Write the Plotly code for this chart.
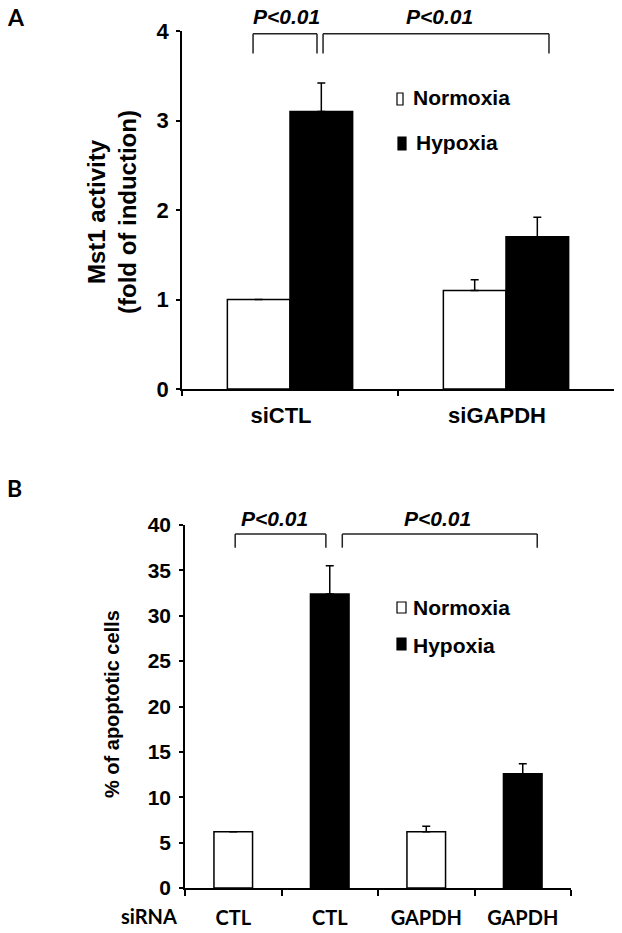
import plotly.graph_objects as go

W, H = 622, 933

# ---------------- data ----------------
# Panel A
groups_a = ["siCTL", "siGAPDH"]
normoxia_a = [1.0, 1.1]
normoxia_a_err = [0.0, 0.12]
hypoxia_a = [3.1, 1.7]
hypoxia_a_err = [0.32, 0.22]
yticks_a = [0, 1, 2, 3, 4]

# Panel B
sirna_b = ["CTL", "CTL", "GAPDH", "GAPDH"]
condition_b = ["Normoxia", "Hypoxia", "Normoxia", "Hypoxia"]
apoptotic_b = [6.2, 32.4, 6.2, 12.6]
apoptotic_b_err = [0.0, 3.1, 0.6, 1.1]
yticks_b = [0, 5, 10, 15, 20, 25, 30, 35, 40]

p_label = "P<0.01"

# ---------------- helpers ----------------
def px(x):
    return x / W

def py(y):
    return 1 - y / H

ARIAL = "Liberation Sans, Arial"
CAL_FONT = dict(family="Lato, Carlito, Calibri", size=20, color="black", weight="bold")

fig = go.Figure()

# Panel A bars
fig.add_trace(go.Bar(
    x=groups_a, y=normoxia_a, name="Normoxia",
    marker=dict(color="white", line=dict(color="black", width=1.5)),
    error_y=dict(type="data", symmetric=False, array=normoxia_a_err,
                 arrayminus=[0] * len(normoxia_a_err), color="black", thickness=1.5, width=4),
    xaxis="x", yaxis="y", showlegend=False))
fig.add_trace(go.Bar(
    x=groups_a, y=hypoxia_a, name="Hypoxia",
    marker=dict(color="black", line=dict(color="black", width=1.5)),
    error_y=dict(type="data", symmetric=False, array=hypoxia_a_err,
                 arrayminus=[0] * len(hypoxia_a_err), color="black", thickness=1.5, width=4),
    xaxis="x", yaxis="y", showlegend=False))

# Panel B bars
xb = list(range(len(sirna_b)))
for cond, fill in [("Normoxia", "white"), ("Hypoxia", "black")]:
    idx = [i for i, c in enumerate(condition_b) if c == cond]
    fig.add_trace(go.Bar(
        x=[xb[i] for i in idx], y=[apoptotic_b[i] for i in idx], name=cond, width=0.4,
        marker=dict(color=fill, line=dict(color="black", width=1.5)),
        error_y=dict(type="data", symmetric=False, array=[apoptotic_b_err[i] for i in idx],
                     arrayminus=[0] * len(idx), color="black", thickness=1.5, width=4),
        xaxis="x2", yaxis="y2", showlegend=False))

axis_common = dict(showline=True, linecolor="black", linewidth=1.5, showgrid=False,
                   zeroline=False, ticks="outside", tickcolor="black", tickwidth=1.5)

fig.update_layout(
    width=W, height=H, margin=dict(l=0, r=0, t=0, b=0, autoexpand=False),
    paper_bgcolor="white", plot_bgcolor="white",
    barmode="group", bargap=0.42, bargroupgap=0,
    xaxis=dict(axis_common, domain=[px(182), px(614)], anchor="y", type="category",
               categoryorder="array", categoryarray=groups_a, range=[-0.5, 1.5],
               tickson="boundaries", ticklen=5,
               tickfont=dict(family=ARIAL, size=22, color="black", weight="bold"),
               ticklabelstandoff=6, ticklabelshift=-9),
    yaxis=dict(axis_common, domain=[py(389), py(31)], anchor="x", range=[0, 4],
               tickvals=yticks_a, ticklen=4,
               tickfont=dict(family=ARIAL, size=22, color="black", weight="bold"),
               ticklabelstandoff=3),
    xaxis2=dict(axis_common, domain=[px(185), px(571)], anchor="y2",
                range=[-0.5, len(sirna_b) - 0.5], tickvals=xb, ticktext=sirna_b,
                ticks="", tickfont=CAL_FONT, ticklabelstandoff=11,
                minor=dict(tickvals=[i - 0.5 for i in range(len(sirna_b) + 1)],
                           ticks="outside", ticklen=6, tickcolor="black", tickwidth=1.5)),
    yaxis2=dict(axis_common, domain=[py(888), py(525)], anchor="x2", range=[0, 40],
                tickvals=yticks_b, ticklen=4,
                tickfont=dict(family=ARIAL, size=21, color="black", weight="bold"),
                ticklabelstandoff=4),
)

shapes = []
annotations = []

def bracket(xref, yref, x0, x1, ytop, ybot):
    line = dict(color="#222222", width=1.5)
    shapes.append(dict(type="line", xref=xref, yref=yref, x0=x0, x1=x1, y0=ytop, y1=ytop, line=line))
    shapes.append(dict(type="line", xref=xref, yref=yref, x0=x0, x1=x0, y0=ytop, y1=ybot, line=line))
    shapes.append(dict(type="line", xref=xref, yref=yref, x0=x1, x1=x1, y0=ytop, y1=ybot, line=line))

# Panel A brackets
bracket("x", "y", -0.171, 0.125, 3.97, 3.75)
bracket("x", "y", 0.153, 1.199, 3.97, 3.75)
# Panel B brackets
bracket("x2", "y2", 0.02, 0.96, 39.0, 37.5)
bracket("x2", "y2", 1.13, 3.15, 39.0, 37.5)

P_FONT = dict(family=ARIAL, size=21, color="black", weight="bold", style="italic")
for xc, yc in [(286, 17), (439, 17), (274, 518), (437, 518)]:
    annotations.append(dict(text=p_label, x=px(xc), y=py(yc), xref="paper", yref="paper",
                            showarrow=False, xanchor="center", yanchor="middle", font=P_FONT))

# Legends
LEG_FONT = dict(family=ARIAL, size=21, color="black", weight="bold")
legend_items = [
    ("Normoxia", "white", (397, 403, 93, 105), (411, 98)),
    ("Hypoxia", "black", (398, 406, 137, 150), (414, 143)),
    ("Normoxia", "white", (397, 406, 602, 613), (411, 607)),
    ("Hypoxia", "black", (397, 406, 638, 650), (411, 645)),
]
for name, fill, (x0, x1, y0, y1), (tx, ty) in legend_items:
    shapes.append(dict(type="rect", xref="paper", yref="paper", x0=px(x0), x1=px(x1),
                       y0=py(y0), y1=py(y1), fillcolor=fill, line=dict(color="black", width=1.2)))
    annotations.append(dict(text=name, x=px(tx), y=py(ty), xref="paper", yref="paper",
                            showarrow=False, xanchor="left", yanchor="middle", font=LEG_FONT))

# Axis titles
annotations.append(dict(text="Mst1 activity<br>(fold of induction)", x=px(112), y=py(212),
                        xref="paper", yref="paper", showarrow=False, textangle=-90,
                        xanchor="center", yanchor="middle",
                        font=dict(family=ARIAL, size=24, color="black", weight="bold")))
annotations.append(dict(text="% of apoptotic cells", x=px(112), y=py(704),
                        xref="paper", yref="paper", showarrow=False, textangle=-90,
                        xanchor="center", yanchor="middle",
                        font=dict(family=ARIAL, size=20, color="black", weight="bold")))

# Panel letters and siRNA label
annotations.append(dict(text="A", x=px(16), y=py(17), xref="paper", yref="paper", showarrow=False,
                        xanchor="center", yanchor="middle", font=dict(CAL_FONT, size=23)))
annotations.append(dict(text="B", x=px(15), y=py(488), xref="paper", yref="paper", showarrow=False,
                        xanchor="center", yanchor="middle", font=dict(CAL_FONT, size=23)))
annotations.append(dict(text="siRNA", x=px(149), y=py(916), xref="paper", yref="paper",
                        showarrow=False, xanchor="center", yanchor="middle", font=CAL_FONT))

fig.update_layout(shapes=shapes, annotations=annotations)

fig.write_html("out.html", config={"displayModeBar": False},
               post_script="document.body.style.margin='0';")
